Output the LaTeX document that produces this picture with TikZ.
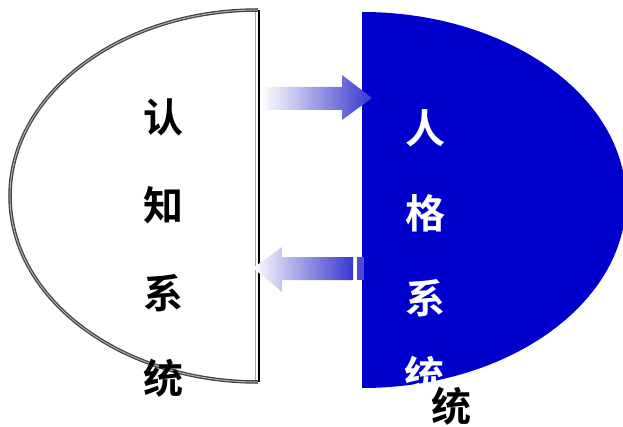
\documentclass[tikz,border=0pt]{standalone}
\usepackage{fontspec}
\newfontfamily\cjk{Noto Sans CJK SC Bold}
\definecolor{dblue}{RGB}{0,0,204}
\definecolor{ablue}{RGB}{55,55,205}
\begin{document}
\begin{tikzpicture}[x=1pt,y=1pt,
  lbl/.style={font=\cjk\fontsize{40}{40}\selectfont, inner sep=0pt},
  arr/.style={draw=none}]
\useasboundingbox (0,0) rectangle (623,426);
\begin{scope}
\clip (0,0) rectangle (623,426);
% right blue half ellipse
\fill[dblue] (362,38) arc[start angle=-90, end angle=90, x radius=264, y radius=188] -- cycle;
\end{scope}
% left half ellipse
\draw[line width=3.5pt, black!75] (258,416) arc[start angle=90, end angle=270, x radius=248, y radius=186];
\draw[line width=1pt, black!30] (258,416) arc[start angle=90, end angle=270, x radius=248, y radius=186];
\draw[line width=2.5pt, black] (259,416) -- (259,44);
\draw[line width=1pt, black!35] (255.5,414) -- (255.5,46);
% arrows
\path[shading=axis, left color=white, right color=ablue]
  (262,339) -- (342,339) -- (342,351) -- (372,328) -- (342,306) -- (342,316) -- (262,316) -- cycle;
\path[shading=axis, left color=white, right color=ablue]
  (353,169) -- (282,169) -- (282,179) -- (253,158) -- (282,134) -- (282,146) -- (353,146) -- cycle;
\fill[ablue!90] (357,169) rectangle (364,146);
% labels
\node[lbl] (a1) at (163,309) {认};
\node[lbl] (a2) at (163,221) {知};
\node[lbl] (a3) at (163,133) {系};
\node[lbl] (a4) at (163,48) {统};
\node[lbl, white] (b1) at (425,298) {人};
\node[lbl, white] (b2) at (425,213) {格};
\node[lbl, white] (b3) at (425,128) {系};
\begin{scope}
\clip (362,38) arc[start angle=-90, end angle=90, x radius=264, y radius=188] -- cycle;
\node[lbl, white] (b4) at (424,51) {统};
\end{scope}
\node[lbl] (b5) at (451,20) {统};
\end{tikzpicture}
\end{document}
